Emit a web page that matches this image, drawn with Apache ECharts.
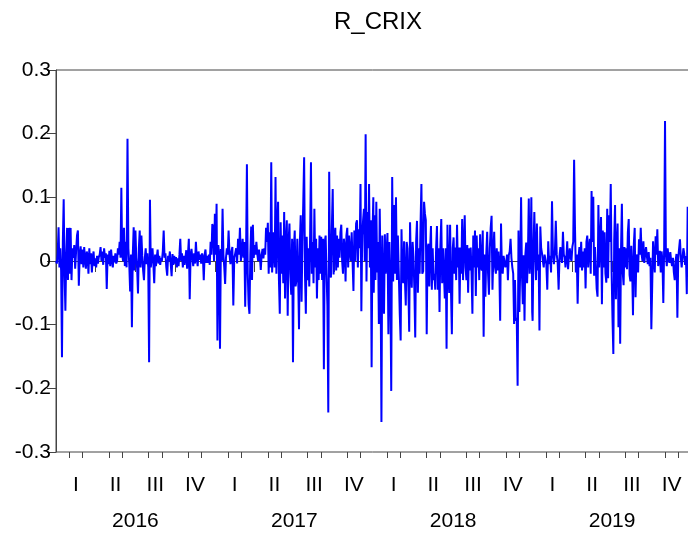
<!DOCTYPE html>
<html><head><meta charset="utf-8">
<script src="https://cdn.jsdelivr.net/npm/echarts@6/dist/echarts.min.js"></script>
<style>html,body{margin:0;padding:0;background:#fff}#c{width:688px;height:538px}</style>
</head><body><div id="c"></div>
<script>
const chartTitle = 'R_CRIX';
const years = [2016, 2017, 2018, 2019];
const quarterLabels = ['I', 'II', 'III', 'IV'];
// every other day from Jan 1 of each year
const r2016 = [0.0,-0.004,0.012,0.053,-0.01,0.02,-0.015,-0.151,0.03,0.097,
-0.02,-0.078,0.01,0.052,-0.03,0.052,-0.02,0.052,-0.03,0.02,
0.005,0.025,-0.012,0.015,0.04,0.048,-0.039,0.01,0.023,-0.005,
0.018,-0.01,0.022,0.003,-0.012,0.015,0.008,-0.02,0.02,-0.005,
0.012,-0.018,0.006,0.015,-0.008,0.004,-0.01,0.008,-0.004,0.006,
0.01,0.022,0.0,0.015,-0.006,0.02,0.005,0.012,-0.044,0.01,
-0.005,0.016,-0.008,0.018,0.002,-0.01,0.008,-0.002,0.012,-0.004,
0.0,0.02,0.01,0.03,0.005,0.115,0.01,0.0,0.052,-0.008,
0.03,-0.01,0.192,0.02,-0.005,-0.048,0.01,-0.104,0.01,0.053,
-0.015,0.048,0.005,-0.012,-0.051,0.02,0.048,-0.01,0.04,0.008,
-0.015,-0.03,0.005,0.02,-0.005,0.012,-0.01,-0.159,0.096,-0.01,
0.005,0.02,-0.005,-0.035,0.01,-0.008,0.006,0.018,-0.004,0.008,
-0.006,0.005,0.0,0.015,0.048,0.005,0.012,-0.01,-0.023,0.008,
0.0,0.015,-0.005,-0.024,0.011,-0.006,0.008,-0.004,0.006,-0.01,
0.004,-0.008,0.01,0.035,0.0,0.012,-0.01,0.008,-0.006,0.005,
0.017,-0.012,0.01,0.035,-0.06,0.01,0.019,0.004,-0.008,0.012,
-0.004,0.03,0.005,-0.008,0.015,0.002,0.01,-0.004,0.012,0.006,
-0.03,0.01,0.018,-0.003,0.008,-0.003,0.01,-0.006,0.03,0.01,
0.058,0.052,0.0];
const r2017 = [0.074,0.01,0.09,-0.125,0.025,0.01,-0.138,0.019,0.0,0.082,
0.01,-0.01,-0.036,0.005,0.02,0.01,0.048,0.01,-0.005,0.015,
0.022,-0.07,0.005,0.012,0.02,-0.004,0.035,0.01,0.052,0.0,
0.015,0.035,0.005,0.03,-0.072,0.01,0.152,-0.02,-0.068,-0.083,
0.01,0.054,-0.03,0.057,0.005,0.025,0.01,0.03,0.012,0.0,
0.018,0.006,-0.014,0.01,0.019,0.004,0.02,0.01,0.052,0.03,
0.06,-0.02,0.045,-0.01,0.155,-0.018,-0.018,0.045,-0.01,0.132,
-0.02,0.05,0.093,-0.03,-0.083,0.061,-0.02,0.04,-0.035,0.077,
-0.059,0.03,0.064,-0.086,0.03,0.059,-0.02,-0.053,0.035,-0.159,
0.02,0.048,-0.04,-0.03,0.035,-0.023,-0.107,0.03,0.072,-0.064,
0.03,0.093,0.163,-0.021,-0.083,0.038,-0.03,0.02,-0.04,0.04,
0.155,-0.02,0.03,-0.035,0.082,-0.01,0.035,-0.059,0.02,-0.03,
0.04,-0.02,0.038,-0.03,0.035,-0.17,0.03,0.04,-0.02,-0.07,
-0.238,0.14,-0.02,-0.026,0.05,0.113,-0.021,0.03,0.052,-0.015,
0.04,-0.01,0.035,0.005,0.045,0.057,0.0,-0.02,0.035,0.022,
-0.032,0.04,0.052,-0.01,0.04,0.015,0.0,0.045,0.044,-0.047,
0.048,0.0,0.059,0.064,-0.01,0.05,0.02,0.121,-0.079,0.04,
0.064,0.082,0.0,0.199,-0.032,0.077,0.02,0.121,-0.01,0.064,
-0.167,0.04,0.1];
const r2018 = [-0.05,0.072,-0.03,0.093,-0.018,0.03,-0.099,0.082,-0.02,-0.253,
0.04,-0.03,-0.083,0.042,-0.02,-0.018,0.044,-0.115,0.03,-0.03,
-0.204,0.132,-0.032,0.088,-0.02,0.1,-0.03,0.04,-0.02,-0.083,
-0.125,0.05,-0.02,-0.035,0.031,-0.03,-0.07,0.03,0.02,-0.04,
-0.111,0.061,-0.01,-0.042,0.03,0.007,-0.044,-0.12,0.03,0.063,
-0.05,0.02,-0.02,0.057,0.121,-0.02,-0.016,0.093,0.074,0.064,
-0.115,0.02,0.027,-0.04,0.02,0.055,-0.045,0.02,-0.03,-0.02,
-0.045,0.02,0.055,-0.045,0.02,-0.08,0.023,0.066,-0.035,0.02,
0.023,-0.059,0.02,-0.138,0.057,-0.02,-0.05,0.057,-0.047,-0.115,
0.02,0.037,-0.02,0.021,-0.03,0.057,-0.01,0.021,-0.067,0.021,
-0.02,0.066,-0.03,0.02,0.072,-0.01,-0.03,0.025,-0.05,0.02,
-0.015,0.021,-0.02,-0.083,0.04,-0.01,0.048,-0.055,0.04,-0.01,
0.02,-0.03,0.042,-0.01,-0.015,0.048,-0.119,0.01,-0.056,0.011,
0.046,-0.02,-0.053,0.02,0.052,0.071,-0.045,0.01,0.046,-0.01,
-0.02,0.02,-0.015,0.015,-0.01,-0.094,0.059,-0.01,-0.02,0.008,
0.006,-0.01,-0.003,0.01,-0.03,0.009,0.015,0.035,0.005,-0.01,
-0.02,-0.099,-0.03,-0.094,-0.089,-0.196,0.048,-0.08,-0.01,0.1,
-0.02,-0.068,0.009,-0.094,0.01,0.029,-0.035,0.01,0.098,-0.02,
0.01,0.1,-0.08];
const r2019 = [-0.094,0.02,0.077,0.01,-0.03,0.059,-0.015,0.01,-0.109,0.054,
0.02,0.012,0.0,-0.01,0.01,0.007,-0.005,-0.045,0.031,-0.005,
0.008,-0.018,0.094,0.01,-0.005,0.012,0.063,0.01,-0.003,-0.045,
0.008,0.022,0.005,-0.003,0.046,0.01,0.006,-0.01,0.004,0.031,
-0.013,0.008,0.02,0.005,0.0,0.022,0.03,0.159,0.052,-0.018,
0.01,-0.067,0.005,0.022,-0.01,0.03,-0.015,0.015,-0.01,0.02,
-0.043,0.03,0.04,-0.01,0.02,0.035,-0.02,0.11,0.03,0.101,
-0.023,0.022,-0.01,-0.044,-0.056,0.088,-0.01,0.03,0.069,-0.068,
0.048,-0.01,0.045,-0.02,-0.034,0.082,-0.027,0.072,0.03,0.121,
-0.018,-0.09,-0.146,0.032,0.088,-0.06,0.02,0.059,-0.104,0.02,
-0.13,0.02,0.09,-0.018,-0.038,0.022,-0.01,0.02,-0.013,0.045,
0.066,-0.022,-0.032,0.024,-0.01,-0.085,0.027,0.052,-0.057,0.006,
0.01,-0.018,0.034,0.01,0.052,0.01,0.0,0.031,-0.003,0.01,
0.022,0.007,-0.005,0.014,-0.008,0.005,-0.107,-0.039,0.031,0.005,
-0.018,0.039,0.01,0.05,-0.008,0.005,0.016,-0.018,0.015,0.0,
-0.066,0.022,0.22,0.01,-0.008,0.02,0.005,-0.003,0.014,0.0,
-0.008,0.005,-0.018,-0.03,0.0,0.011,-0.089,0.005,0.02,0.034,
0.005,-0.01,-0.008,0.02,0.012,-0.006,0.008,-0.052,0.085,0.03];
const seriesByYear = [r2016, r2017, r2018, r2019];

// x position in months since 2016-01-01 for the j-th value (every 2 days) of a year
function monthPos(year, j) {
  const d = new Date(Date.UTC(year, 0, 1 + 2 * j));
  const y = d.getUTCFullYear(), m = d.getUTCMonth(), day = d.getUTCDate();
  const dim = new Date(Date.UTC(y, m + 1, 0)).getUTCDate();
  return (y - 2016) * 12 + m + (day - 1) / dim;
}
const data = [];
seriesByYear.forEach((arr, yi) => arr.forEach((v, j) => data.push([monthPos(years[yi], j), v])));

const quarterTicks = [], quarterCenters = [], monthTicks = [];
for (let q = 0; q <= 16; q++) quarterTicks.push(q * 3);
for (let q = 0; q < 16; q++) quarterCenters.push(q * 3 + 1.5);
for (let m = 0; m <= 48; m++) if (m % 3 !== 0) monthTicks.push(m);
const yearCenters = years.map((y, i) => i * 12 + 6);

const axisColor = '#444';
const font = 'Liberation Sans, Arial, sans-serif';
const chart = echarts.init(document.getElementById('c'), null, {renderer: 'canvas'});
chart.setOption({
  animation: false,
  backgroundColor: '#fff',
  title: {
    text: chartTitle, left: 373, top: 5, textAlign: 'center',
    textStyle: {fontFamily: font, fontSize: 24, fontWeight: 'normal', color: '#000'}
  },
  grid: {left: 56, right: -3.5, top: 70, bottom: 86, show: true, borderColor: axisColor, borderWidth: 1, containLabel: false, outerBoundsMode: 'none'},
  xAxis: [{
    type: 'value', min: 0, max: 48, interval: 3, position: 'bottom',
    axisLine: {show: true, lineStyle: {color: axisColor, width: 1}},
    axisTick: {show: true, customValues: quarterTicks, length: 11, lineStyle: {color: axisColor}},
    splitLine: {show: false},
    axisLabel: {
      customValues: quarterCenters, margin: 23, fontSize: 21, fontFamily: font, color: '#000',
      formatter: v => quarterLabels[Math.round((v - 1.5) / 3) % 4]
    }
  }, {
    type: 'value', min: 0, max: 48, position: 'bottom',
    axisLine: {show: false}, splitLine: {show: false},
    axisTick: {show: true, customValues: monthTicks, length: 6, lineStyle: {color: axisColor}},
    axisLabel: {show: false}
  }, {
    type: 'value', min: 0, max: 48, position: 'bottom',
    axisLine: {show: false}, axisTick: {show: false}, splitLine: {show: false},
    axisLabel: {
      customValues: yearCenters, margin: 59, fontSize: 21, fontFamily: font, color: '#000',
      formatter: v => String(years[Math.round((v - 6) / 12)])
    }
  }],
  yAxis: {
    type: 'value', min: -0.3, max: 0.3, interval: 0.1,
    axisLine: {show: true, lineStyle: {color: axisColor, width: 1}},
    axisTick: {show: true, length: 9, lineStyle: {color: axisColor}},
    splitLine: {show: false},
    axisLabel: {
      margin: 5, fontSize: 21, fontFamily: font, color: '#000',
      formatter: v => { const r = Math.round(v * 10) / 10; return r === 0 ? '0' : String(r); }
    }
  },
  series: [{
    type: 'line', data: data, xAxisIndex: 0, symbol: 'none', showSymbol: false, clip: true,
    lineStyle: {color: '#0000ff', width: 2}
  }]
});
</script>
</body></html>
